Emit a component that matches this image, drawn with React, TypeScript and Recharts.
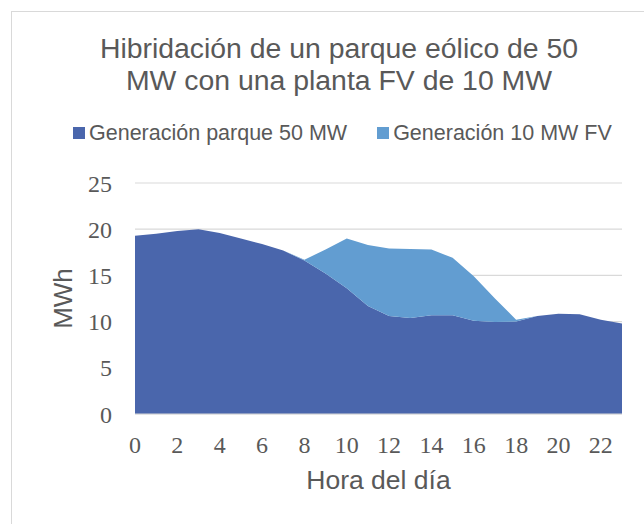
import { AreaChart, Area, XAxis, YAxis, CartesianGrid, Label } from 'recharts'

// horas del día
const horas = [0, 1, 2, 3, 4, 5, 6, 7, 8, 9, 10, 11, 12, 13, 14, 15, 16, 17, 18, 19, 20, 21, 22, 23]
// Generación parque 50 MW (MWh)
const eolica = [19.3, 19.5, 19.8, 20.0, 19.6, 19.0, 18.4, 17.7, 16.6, 15.2, 13.6, 11.7, 10.6, 10.4, 10.7, 10.7, 10.1, 9.95, 10.0, 10.6, 10.85, 10.8, 10.2, 9.8]
// Generación 10 MW FV (MWh), apilada encima
const fv = [0, 0, 0, 0, 0, 0, 0, 0, 0.1, 2.6, 5.4, 6.6, 7.3, 7.45, 7.1, 6.2, 4.8, 2.55, 0.2, 0, 0, 0, 0, 0]

const xTicks = [0, 2, 4, 6, 8, 10, 12, 14, 16, 18, 20, 22]
const yTicks = [0, 5, 10, 15, 20, 25]

const series = [
  { key: 'eolica', name: 'Generación parque 50 MW', color: '#4A66AC' },
  { key: 'fv', name: 'Generación 10 MW FV', color: '#629DD1' },
]

const data = horas.map((h, i) => ({ hora: h, eolica: eolica[i], fv: fv[i] }))

const SANS = '"Liberation Sans", Arial, sans-serif'
const SERIF = '"Liberation Serif", "Times New Roman", serif'
const GRIS = '#595959'

export default function App() {
  return (
    <div style={{ position: 'absolute', left: 0, top: 0, width: 644, height: 524, overflow: 'hidden', background: '#fff' }}>
      {/* marco del gráfico */}
      <div style={{ position: 'absolute', left: 11, top: 11, width: 700, height: 600, border: '1.5px solid #d9d9d9' }} />

      <div style={{ position: 'absolute', left: 39, top: 32, width: 600, textAlign: 'center', fontFamily: SANS, fontSize: 28.4, lineHeight: '32px', color: GRIS }}>
        <div>Hibridación de un parque eólico de 50</div>
        <div>MW con una planta FV de 10 MW</div>
      </div>

      <div style={{ position: 'absolute', left: 73, top: 120, height: 26, display: 'flex', alignItems: 'center', fontFamily: SANS, fontSize: 21.5, color: GRIS }}>
        {series.map((s, i) => (
          <div key={s.key} style={{ display: 'flex', alignItems: 'center', marginLeft: i === 0 ? 0 : 30 }}>
            <div style={{ width: 12, height: 12, background: s.color, marginRight: 4 }} />
            <span>{s.name}</span>
          </div>
        ))}
      </div>

      <div style={{ position: 'absolute', left: 0, top: 0 }}>
        <AreaChart width={644} height={524} data={data} margin={{ top: 183, right: 22, left: 43, bottom: 70 }}>
          <CartesianGrid vertical={false} stroke="#d9d9d9" strokeWidth={1.2} />
          <XAxis
            dataKey="hora"
            type="number"
            domain={[0, 23]}
            ticks={xTicks}
            height={40}
            tickLine={false}
            tickMargin={16}
            axisLine={{ stroke: '#d9d9d9' }}
            tick={{ fontFamily: SERIF, fontSize: 24, fill: GRIS }}
            interval={0}
          >
            <Label value="Hora del día" position="bottom" offset={16} style={{ fontFamily: SANS, fontSize: 26.5, fill: GRIS }} />
          </XAxis>
          <YAxis
            type="number"
            domain={[0, 25]}
            ticks={yTicks}
            width={92}
            tickLine={false}
            axisLine={false}
            tickMargin={17}
            tick={{ fontFamily: SERIF, fontSize: 24, fill: GRIS }}
          >
            <Label value="MWh" angle={-90} position="insideLeft" offset={20} style={{ fontFamily: SANS, fontSize: 26, fill: GRIS, textAnchor: 'middle' }} />
          </YAxis>
          {series.map(s => (
            <Area
              key={s.key}
              dataKey={s.key}
              name={s.name}
              stackId="1"
              type="linear"
              fill={s.color}
              fillOpacity={1}
              stroke="none"
              isAnimationActive={false}
            />
          ))}
        </AreaChart>
      </div>
    </div>
  )
}
